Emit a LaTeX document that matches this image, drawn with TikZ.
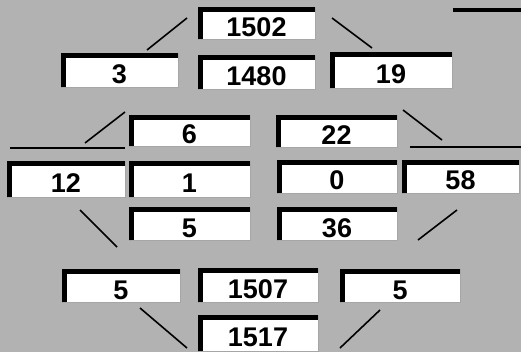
\documentclass[tikz,border=0pt]{standalone}
\usepackage{fontspec}
\setmainfont{Liberation Sans}
\begin{document}
\begin{tikzpicture}[x=1pt,y=-1pt,
  numbox/.style={fill=white, draw=gray!70, line width=0.6pt, inner sep=0pt,
    font=\bfseries\fontsize{27}{27}\selectfont, text height=27pt, text depth=0pt},
  barline/.style={line width=5.5pt, black},
  conn/.style={line width=1.6pt, black},
  rule/.style={line width=2.6pt, black}]
\fill[black!30] (0,0) rectangle (521,352);
\useasboundingbox (0,0) rectangle (521,352);
\newcommand\nbox[6]{%
  \node[numbox, minimum width={#4-#2}, minimum height={#5-#3}] (#1) at ({(#2+#4)/2},{(#3+#5)/2}) {#6};
  \draw[barline] ([xshift=2.75pt]#1.south west) -- ([xshift=2.75pt,yshift=-2.75pt]#1.north west) -- ([yshift=-2.75pt]#1.north east);
}
\nbox{a}{198}{7}{315}{39}{1502}
\nbox{b}{61}{53}{178}{87}{3}
\nbox{c}{198}{55}{315}{89}{1480}
\nbox{d}{330}{52}{452}{88}{19}
\nbox{e}{129}{115}{250}{146}{6}
\nbox{f}{276}{115}{397}{147}{22}
\nbox{g}{7}{161}{125}{197}{12}
\nbox{h}{129}{161}{250}{197}{1}
\nbox{i}{277}{160}{397}{193}{0}
\nbox{j}{402}{160}{519}{193}{58}
\nbox{k}{129}{207}{250}{240}{5}
\nbox{l}{277}{207}{397}{240}{36}
\nbox{m}{62}{269}{180}{302}{5}
\nbox{n}{198}{268}{318}{302}{1507}
\nbox{o}{340}{269}{460}{302}{5}
\nbox{p}{198}{315}{318}{351}{1517}
% free ends of connectors
\coordinate (c1a) at (147,50);  \coordinate (c1b) at (187,18);
\coordinate (c2a) at (332,18);  \coordinate (c2b) at (372,48);
\coordinate (c3a) at (85,143);  \coordinate (c3b) at (125,112);
\coordinate (c4a) at (403,110); \coordinate (c4b) at (442,140);
\coordinate (c5a) at (80,210);  \coordinate (c5b) at (117,247);
\coordinate (c6a) at (457,210); \coordinate (c6b) at (418,240);
\coordinate (c7a) at (140,308); \coordinate (c7b) at (187,348);
\coordinate (c8a) at (380,310); \coordinate (c8b) at (340,348);
\coordinate (h1a) at (10,148);  \coordinate (h1b) at (125,148);
\coordinate (h2a) at (410,147); \coordinate (h2b) at (521,147);
\coordinate (h3a) at (453,10);  \coordinate (h3b) at (521,10);
\draw[conn] (c1a) -- (c1b);
\draw[conn] (c2a) -- (c2b);
\draw[conn] (c3a) -- (c3b);
\draw[conn] (c4a) -- (c4b);
\draw[conn] (c5a) -- (c5b);
\draw[conn] (c6a) -- (c6b);
\draw[conn] (c7a) -- (c7b);
\draw[conn] (c8a) -- (c8b);
\draw[rule] (h1a) -- (h1b);
\draw[rule] (h2a) -- (h2b);
\draw[line width=4pt] (h3a) -- (h3b);
\end{tikzpicture}
\end{document}
